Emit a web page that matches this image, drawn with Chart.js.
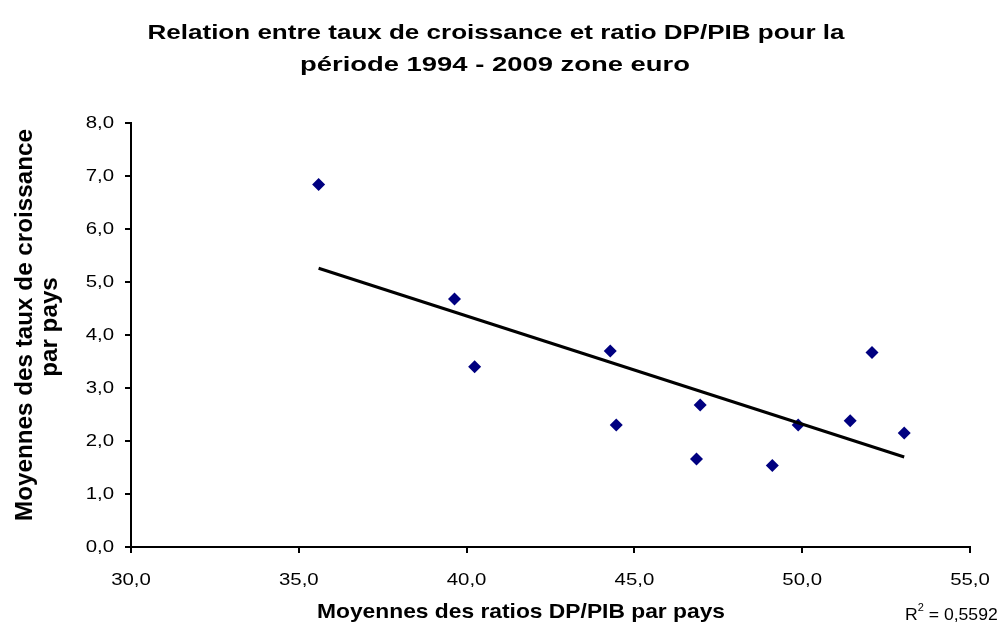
<!DOCTYPE html>
<html>
<head>
<meta charset="utf-8">
<script src="https://cdn.jsdelivr.net/npm/chart.js@4/dist/chart.umd.min.js"></script>
<style>
  html, body { margin: 0; padding: 0; background: #fff; }
  #wrap { width: 1005px; height: 635px; }
</style>
</head>
<body>
<div id="wrap"><canvas id="c" width="1005" height="635"></canvas></div>
<script>
// moyennes par pays
const ratiosDP = [35.59, 39.64, 40.24, 44.28, 44.46, 46.96, 46.85, 49.11, 49.88, 51.43, 52.08, 53.04];
const tauxCroissance = [6.84, 4.68, 3.40, 3.70, 2.30, 2.68, 1.66, 1.54, 2.30, 2.38, 3.67, 2.15];
const xTicks = [30, 35, 40, 45, 50, 55];
const yTicks = [0, 1, 2, 3, 4, 5, 6, 7, 8];
const titre = ['Relation entre taux de croissance et ratio DP/PIB pour la', 'période 1994 - 2009 zone euro'];
const titreY = ['Moyennes des taux de croissance', 'par pays'];
const titreX = 'Moyennes des ratios DP/PIB par pays';
const r2Texte = '0,5592';

const FONT = "'Liberation Sans', Arial, sans-serif";

// droite de tendance (moindres carres)
const n = ratiosDP.length;
const mx = ratiosDP.reduce((a, b) => a + b, 0) / n;
const my = tauxCroissance.reduce((a, b) => a + b, 0) / n;
let sxy = 0, sxx = 0;
for (let i = 0; i < n; i++) {
  sxy += (ratiosDP[i] - mx) * (tauxCroissance[i] - my);
  sxx += (ratiosDP[i] - mx) ** 2;
}
const pente = sxy / sxx;
const ordonnee = my - pente * mx;
const xMin = Math.min(...ratiosDP), xMax = Math.max(...ratiosDP);

const points = ratiosDP.map((x, i) => ({ x: x, y: tauxCroissance[i] }));
const tendance = [
  { x: xMin, y: ordonnee + pente * xMin },
  { x: xMax, y: ordonnee + pente * xMax }
];

const fmt = v => v.toFixed(1).replace('.', ',');

// texte etire comme dans l'original (sx le long de la ligne, sy en hauteur)
function texteEtire(ctx, txt, x, y, font, sx, align, angle, sy) {
  ctx.save();
  ctx.font = font;
  ctx.translate(x, y);
  if (angle) ctx.rotate(angle);
  ctx.scale(sx, sy || 1);
  ctx.textAlign = align || 'center';
  ctx.fillText(txt, 0, 0);
  ctx.restore();
}
function largeur(ctx, txt, font) {
  ctx.save();
  ctx.font = font;
  const w = ctx.measureText(txt).width;
  ctx.restore();
  return w;
}

const textes = {
  id: 'textes',
  afterDraw(chart) {
    const ctx = chart.ctx;
    ctx.save();
    ctx.fillStyle = '#000';
    ctx.textBaseline = 'middle';
    const gras = 'bold 21px ' + FONT;
    texteEtire(ctx, titre[0], 496, 33, gras, 697 / largeur(ctx, titre[0], gras));
    texteEtire(ctx, titre[1], 495, 65, gras, 390 / largeur(ctx, titre[1], gras));
    texteEtire(ctx, titreX, 521, 612, gras, 408 / largeur(ctx, titreX, gras));

    // titre vertical
    ctx.textBaseline = 'alphabetic';
    const grasY = 'bold 21px ' + FONT;
    const sLong = 392 / largeur(ctx, titreY[0], grasY);
    texteEtire(ctx, titreY[0], 32, 325, grasY, sLong, 'center', -Math.PI / 2, 1.15);
    texteEtire(ctx, titreY[1], 57, 327, grasY, sLong, 'center', -Math.PI / 2, 1.15);

    // etiquettes des graduations, placees par les echelles
    ctx.textBaseline = 'middle';
    const sx = chart.scales.x, sy = chart.scales.y;
    const fTick = '17px ' + FONT;
    sx.ticks.forEach(t => {
      texteEtire(ctx, fmt(t.value), sx.getPixelForValue(t.value), 580, fTick, 1.2, 'center');
    });
    sy.ticks.forEach(t => {
      texteEtire(ctx, fmt(t.value), 114, sy.getPixelForValue(t.value), fTick, 1.2, 'right');
    });

    // R²
    ctx.textBaseline = 'alphabetic';
    const x0 = 905, k = 1.1;
    const fR = '16px ' + FONT, fExp = '10px ' + FONT;
    texteEtire(ctx, 'R', x0, 620, fR, k, 'left');
    let w = largeur(ctx, 'R', fR) * k;
    texteEtire(ctx, '2', x0 + w, 611, fExp, k, 'left');
    w += largeur(ctx, '2', fExp) * k;
    texteEtire(ctx, ' = ' + r2Texte, x0 + w, 620, fR, k, 'left');
    ctx.restore();
  }
};

new Chart(document.getElementById('c'), {
  type: 'scatter',
  data: {
    datasets: [
      {
        label: 'Tendance',
        type: 'line',
        data: tendance,
        borderColor: '#000',
        borderWidth: 3,
        pointRadius: 0,
        fill: false
      },
      {
        label: 'Pays',
        data: points,
        pointStyle: 'rectRot',
        pointRadius: 6.5,
        backgroundColor: '#000080',
        borderColor: '#000080',
        borderWidth: 0
      }
    ]
  },
  options: {
    responsive: false,
    animation: false,
    layout: { padding: { top: 123, left: 70, right: 35, bottom: 0 } },
    plugins: {
      legend: { display: false },
      title: { display: false },
      tooltip: { enabled: false }
    },
    scales: {
      x: {
        type: 'linear',
        min: xTicks[0],
        max: xTicks[xTicks.length - 1],
        afterBuildTicks: s => { s.ticks = xTicks.map(v => ({ value: v })); },
        afterFit: s => { s.height = 88; },
        ticks: { display: false },
        grid: { drawOnChartArea: false, drawTicks: true, tickLength: 6, color: '#000', lineWidth: 2 },
        border: { color: '#000', width: 2 }
      },
      y: {
        type: 'linear',
        min: yTicks[0],
        max: yTicks[yTicks.length - 1],
        afterBuildTicks: s => { s.ticks = yTicks.map(v => ({ value: v })); },
        afterFit: s => { s.width = 61; },
        ticks: { display: false },
        grid: { drawOnChartArea: false, drawTicks: true, tickLength: 6, color: '#000', lineWidth: 2 },
        border: { color: '#000', width: 2 }
      }
    }
  },
  plugins: [textes]
});
</script>
</body>
</html>
